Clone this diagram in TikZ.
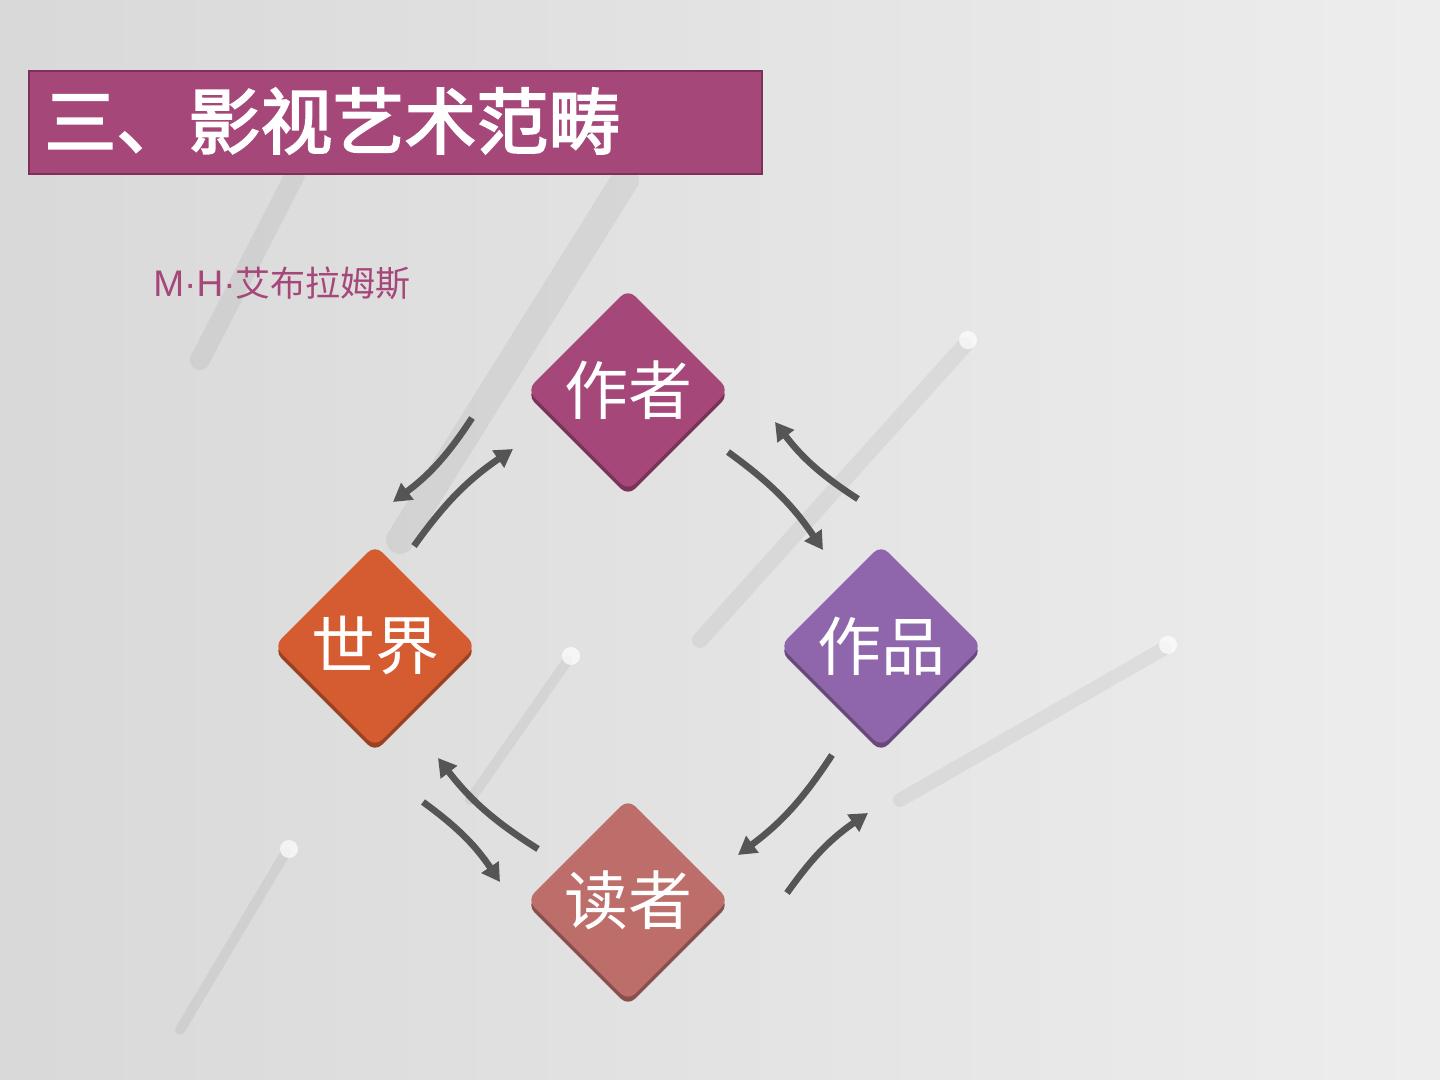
\documentclass[tikz,border=0pt]{standalone}
\usepackage{fontspec}
\newfontfamily\cjk{Noto Sans CJK SC}
\newfontfamily\cjkbold[FakeBold=2.5]{Noto Sans CJK SC}
\newfontfamily\latin{Liberation Sans}
\usetikzlibrary{arrows.meta,shapes.geometric,shadows}
\definecolor{plum}{HTML}{A6477A}
\definecolor{plumdark}{HTML}{7E2F5A}
\definecolor{rust}{HTML}{D55B31}
\definecolor{lilac}{HTML}{8F66AC}
\definecolor{rose}{HTML}{BD6E6B}
\definecolor{arrowgray}{HTML}{555555}
\tikzset{
  tile/.style={diamond, aspect=1, minimum size=101pt, inner sep=0pt,
    rounded corners=5pt, fill=#1, draw=none, text=white,
    font=\cjk\fontsize{32}{32}\selectfont,
    copy shadow={shadow xshift=0pt, shadow yshift=-2.5pt, fill=#1!72!black, draw=none}},
  flow/.style={arrowgray, line width=3.3pt, -{Triangle[length=9pt,width=10pt]}},
  rod/.style={line cap=round, black, opacity=0.05}
}
\begin{document}
\begin{tikzpicture}[x=0.5pt, y=-0.5pt]
  % background
  \shade[left color=black!15, right color=black!7] (0,0) rectangle (1440,1080);
  \useasboundingbox (0,0) rectangle (1440,1080);
  % rods of the photo
  \draw[rod, line width=14pt] (625,180) -- (400,540);
  \draw[rod, line width=10pt] (295,175) -- (200,360);
  \draw[rod, line width=8pt] (965,345) -- (700,640);
  \draw[rod, line width=7pt] (1165,648) -- (900,800);
  \draw[rod, line width=5pt] (568,660) -- (470,800);
  \draw[rod, line width=5pt] (286,852) -- (180,1030);
  \foreach \p in {(968,340),(1168,645),(571,656),(289,849)}
    \fill[white, opacity=0.7] \p circle (4.5pt);
  % title
  \node[fill=plum, draw=plumdark, line width=0.8pt, minimum width=366.5pt, minimum height=51.5pt,
    anchor=north west, inner sep=0pt] (title) at (28,70) {};
  \node[anchor=west, text=white, font=\cjkbold\fontsize{36}{36}\selectfont, inner sep=0pt]
    (titletext) at (44,121) {三、影视艺术范畴};
  \node[anchor=west, text=plum, font=\cjk\fontsize{17.5}{17.5}\selectfont, inner sep=0pt]
    (critic) at (153,283) {{\latin\fontsize{18.5}{18.5}\selectfont M·H·}艾布拉姆斯};
  % four poles
  \node[tile=plum]  (author) at (628,390) {作者};
  \node[tile=rust]  (world)  at (375,646) {世界};
  \node[tile=lilac] (work)   at (881,646) {作品};
  \node[tile=rose]  (reader) at (628,900) {读者};
  % arrow ends
  \coordinate (awS) at (472,418); \coordinate (awE) at (393,502);
  \coordinate (waS) at (414,546); \coordinate (waE) at (513,449);
  \coordinate (apS) at (728,452); \coordinate (apE) at (823,550);
  \coordinate (paS) at (858,499); \coordinate (paE) at (775,422);
  \coordinate (prS) at (832,755); \coordinate (prE) at (738,855);
  \coordinate (rpS) at (787,893); \coordinate (rpE) at (868,813);
  \coordinate (wrS) at (423,802); \coordinate (wrE) at (500,882);
  \coordinate (rwS) at (538,849); \coordinate (rwE) at (438,758);
  \foreach \s/\e in {awS/awE, waS/waE, apS/apE, paS/paE, prS/prE, rpS/rpE, wrS/wrE, rwS/rwE}
    \draw[flow] (\s) to[bend left=10] (\e);
\end{tikzpicture}
\end{document}
